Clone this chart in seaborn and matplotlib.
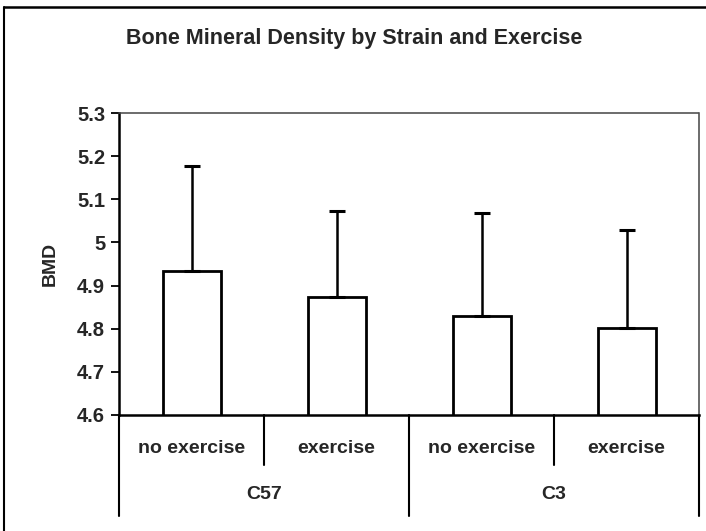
import matplotlib
matplotlib.use("Agg")
import matplotlib.pyplot as plt
import seaborn as sns
import pandas as pd
from matplotlib.lines import Line2D

# ---- data ----
strains = ["C57", "C57", "C3", "C3"]
exercise = ["no exercise", "exercise", "no exercise", "exercise"]
bmd = [4.933, 4.874, 4.829, 4.802]
err = [0.244, 0.198, 0.239, 0.226]
yticks = [4.6, 4.7, 4.8, 4.9, 5.0, 5.1, 5.2, 5.3]
ytick_labels = ["4.6", "4.7", "4.8", "4.9", "5", "5.1", "5.2", "5.3"]
groups = ["C57", "C3"]

sns.set_theme(style="white")
plt.rcParams['font.family'] = ['Liberation Sans', 'DejaVu Sans']

df = pd.DataFrame({"slot": [f"{s}|{e}" for s, e in zip(strains, exercise)],
                   "BMD": bmd})

fig = plt.figure(figsize=(7.06, 5.31), dpi=100)
fig.patch.set_facecolor("white")
ax = fig.add_axes([0.1686, 0.2185, 0.8215, 0.5685])

sns.barplot(data=df, x="slot", y="BMD", ax=ax, color="white", width=0.40,
            edgecolor="black", linewidth=2.0, errorbar=None, zorder=2)
for p in ax.patches:
    p.set_facecolor("white")

xs = list(range(len(bmd)))
ax.errorbar(xs, bmd, yerr=[[0]*len(err), err], fmt="none", ecolor="black",
            elinewidth=1.8, capsize=5.5, capthick=2.2, zorder=3)

ax.set_ylim(4.6, 5.3)
ax.set_xlim(-0.5, 3.5)
ax.set_yticks(yticks)
ax.set_yticklabels(ytick_labels, fontsize=14.5, fontweight="bold")
ax.tick_params(axis="y", length=6, width=1.3, color="black", pad=4, left=True)
ax.set_xticks([])
ax.set_xlabel("")
ax.set_ylabel("BMD", fontsize=14, fontweight="bold", labelpad=13)

for s in ["top", "right"]:
    ax.spines[s].set_linestyle((0, (1.5, 1.0)))
    ax.spines[s].set_color("#444444")
    ax.spines[s].set_linewidth(1.1)
ax.spines["left"].set_color("black")
ax.spines["left"].set_linewidth(1.8)
ax.spines["bottom"].set_color("black")
ax.spines["bottom"].set_linewidth(1.8)

# category table below axis
tr = ax.get_xaxis_transform()
for i, e in enumerate(exercise):
    ax.text(i, -0.112, e, transform=tr, ha="center", va="center",
            fontsize=14, fontweight="bold")
for b in [0.5, 2.5]:
    ax.plot([b, b], [0, -0.166], transform=tr, color="black", lw=1.5, clip_on=False)
for b in [-0.5, 1.5, 3.5]:
    ax.plot([b, b], [0, -0.335], transform=tr, color="black", lw=1.5, clip_on=False)
for gi, g in enumerate(groups):
    ax.text(gi * 2 + 0.5, -0.262, g, transform=tr, ha="center", va="center",
            fontsize=14, fontweight="bold")

fig.text(0.502, 0.928, "Bone Mineral Density by Strain and Exercise",
         ha="center", va="center", fontsize=15.5, fontweight="bold")

# scanned frame: top and left edges
fig.lines.append(Line2D([0.006, 1.0], [0.986, 0.986], transform=fig.transFigure,
                        color="black", linewidth=1.8))
fig.lines.append(Line2D([0.006, 0.006], [0.0, 0.986], transform=fig.transFigure,
                        color="black", linewidth=1.5))

fig.savefig("out.png", dpi=100)
